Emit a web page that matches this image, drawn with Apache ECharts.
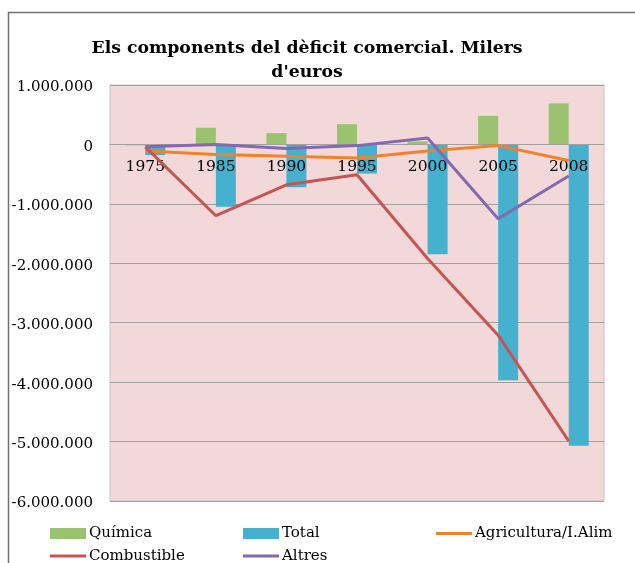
<!DOCTYPE html>
<html>
<head>
<meta charset="utf-8">
<script src="https://cdn.jsdelivr.net/npm/echarts@6/dist/echarts.min.js"></script>
<style>
html,body{margin:0;padding:0;background:#fff;}
#chart{width:635px;height:563px;}
</style>
</head>
<body>
<div id="chart"></div>
<script>
var categories = ['1975', '1985', '1990', '1995', '2000', '2005', '2008'];
var quimica = [-15000, 280000, 190000, 340000, 50000, 480000, 690000];
var total = [-180000, -1050000, -720000, -490000, -1850000, -3970000, -5070000];
var agricultura = [-110000, -170000, -200000, -230000, -110000, -20000, -270000];
var combustible = [-40000, -1200000, -680000, -510000, -1920000, -3210000, -4990000];
var altres = [-40000, 0, -70000, -20000, 110000, -1250000, -530000];
var titleText = "Els components del dèficit comercial. Milers\nd'euros";

var serif = 'DejaVu Serif';
var COL = {
  quimica: '#9BC26F',
  total: '#45B1CE',
  agri: '#F0822A',
  comb: '#C45552',
  altres: '#8468B0'
};

var GRID_TOP = 85, GRID_BOTTOM = 62, H = 563;
var Y_MIN = -6000000, Y_MAX = 1000000;
var plotH = H - GRID_TOP - GRID_BOTTOM;
var zeroFromBottom = plotH * (0 - Y_MIN) / (Y_MAX - Y_MIN);

function fmt(v) {
  var neg = v < 0;
  var s = String(Math.abs(v));
  var out = '';
  while (s.length > 3) {
    out = '.' + s.slice(-3) + out;
    s = s.slice(0, -3);
  }
  out = s + out;
  return (neg ? '-' : '') + out;
}

function legendItem(name, left, top, isLine) {
  return {
    data: [{ name: name, icon: 'rect' }],
    left: left,
    top: top,
    padding: 0,
    itemWidth: 36,
    itemHeight: isLine ? 3 : 11,
    selectedMode: false,
    textStyle: { fontFamily: serif, fontSize: 15, color: '#000', lineHeight: 18, padding: [0, 0, 0, -2] }
  };
}

var chart = echarts.init(document.getElementById('chart'));
chart.setOption({
  animation: false,
  backgroundColor: '#fff',
  graphic: [{
    type: 'rect',
    shape: { x: 8.5, y: 12.5, width: 700, height: 700 },
    style: { fill: 'none', stroke: '#707070', lineWidth: 1.5 },
    silent: true,
    z: 100
  }],
  title: {
    text: titleText,
    left: 302,
    top: 32,
    textAlign: 'center',
    textStyle: {
      fontFamily: 'DejaVu Serif',
      fontWeight: 'bold',
      fontSize: 17.3,
      lineHeight: 24,
      color: '#000'
    }
  },
  legend: [
    legendItem('Química', 50, 524.5, false),
    legendItem('Total', 243, 524.5, false),
    legendItem('Agricultura/I.Alim', 436, 524.5, true),
    legendItem('Combustible', 50, 547, true),
    legendItem('Altres', 243, 547, true)
  ],
  grid: {
    left: 110,
    right: 31,
    top: GRID_TOP,
    bottom: GRID_BOTTOM,
    show: true,
    backgroundColor: '#F2D8D8',
    borderColor: '#c4c4c4',
    borderWidth: 1
  },
  xAxis: {
    type: 'category',
    data: categories,
    position: 'bottom',
    offset: -zeroFromBottom,
    axisLine: { onZero: false, lineStyle: { color: '#a0a0a0', width: 1 } },
    axisTick: { show: false },
    axisLabel: { fontFamily: serif, fontSize: 15.5, color: '#000', margin: 15 },
    z: 2.5
  },
  yAxis: {
    type: 'value',
    min: Y_MIN,
    max: Y_MAX,
    interval: 1000000,
    axisLine: { show: false },
    axisTick: { show: false },
    splitLine: { lineStyle: { color: '#a0a0a0', width: 1 } },
    axisLabel: {
      margin: 17,
      formatter: function (v) { return '{v|' + fmt(v) + '}'; },
      rich: {
        v: { fontFamily: serif, fontSize: 15, color: '#000', padding: [5, 0, 0, 0] }
      }
    }
  },
  series: [
    {
      name: 'Química', type: 'bar', data: quimica,
      barWidth: 20, barGap: '0%',
      itemStyle: { color: COL.quimica }
    },
    {
      name: 'Total', type: 'bar', data: total,
      barWidth: 20, barGap: '0%',
      itemStyle: { color: COL.total }
    },
    {
      name: 'Agricultura/I.Alim', type: 'line', data: agricultura,
      showSymbol: false, symbol: 'none',
      lineStyle: { color: COL.agri, width: 3 },
      itemStyle: { color: COL.agri }, z: 3
    },
    {
      name: 'Combustible', type: 'line', data: combustible,
      showSymbol: false, symbol: 'none',
      lineStyle: { color: COL.comb, width: 3 },
      itemStyle: { color: COL.comb }, z: 3
    },
    {
      name: 'Altres', type: 'line', data: altres,
      showSymbol: false, symbol: 'none',
      lineStyle: { color: COL.altres, width: 3 },
      itemStyle: { color: COL.altres }, z: 3
    }
  ]
});
</script>
</body>
</html>
